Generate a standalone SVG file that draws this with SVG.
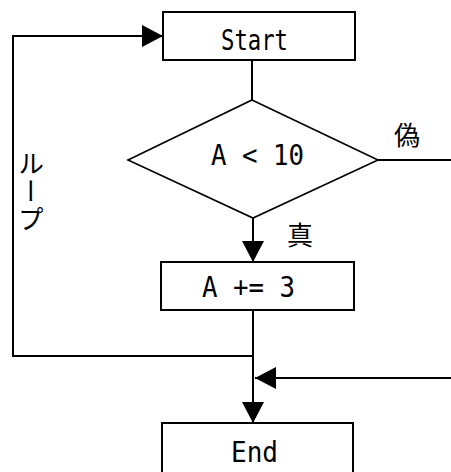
<svg xmlns="http://www.w3.org/2000/svg" width="451" height="472" viewBox="0 0 451 472">
  <style>
    .box { fill: #fff; stroke: #000; stroke-width: 2; }
    .dia { fill: #fff; stroke: #000; stroke-width: 1.6; }
    .wire { fill: none; stroke: #000; stroke-width: 2; }
    .lbl { font-family: "DejaVu Sans Mono", "Liberation Mono", monospace; font-size: 28px; fill: #000; }
    .jp { font-family: "Noto Sans CJK JP", "Noto Sans", sans-serif; font-size: 26px; fill: #000; }
  </style>
  <defs>
    <marker id="arrow" markerUnits="userSpaceOnUse" markerWidth="22" markerHeight="22" refX="21" refY="11" orient="auto">
      <path d="M0,0 L21,11 L0,22 Z" fill="#000"/>
    </marker>
  </defs>
  <rect width="451" height="472" fill="#fff"/>

  <g id="connectors">
    <line class="wire" x1="252" y1="60" x2="252" y2="100"/>
    <line class="wire" x1="253" y1="218" x2="253" y2="262" marker-end="url(#arrow)"/>
    <line class="wire" x1="253" y1="310" x2="253" y2="423" marker-end="url(#arrow)"/>
    <path class="wire" d="M253,356 H13 V36 H163" marker-end="url(#arrow)"/>
    <line class="wire" x1="378" y1="160" x2="451" y2="160"/>
    <line class="wire" x1="451" y1="378" x2="255" y2="378" marker-end="url(#arrow)"/>
    <text class="jp" x="394" y="145">偽</text>
    <text class="jp" x="287" y="245">真</text>
    <text class="jp" x="31" y="150" writing-mode="tb" style="writing-mode: vertical-rl; letter-spacing: 2px">ループ</text>
  </g>

  <g id="start">
    <rect class="box" x="163" y="12" width="192" height="48"/>
    <text class="lbl" x="221" y="50" textLength="67" lengthAdjust="spacingAndGlyphs">Start</text>
  </g>

  <g id="condition">
    <polygon class="dia" points="252,100 378,160 253,218 128,160"/>
    <text class="lbl" x="211" y="165" textLength="93" lengthAdjust="spacingAndGlyphs">A &lt; 10</text>
  </g>

  <g id="increment">
    <rect class="box" x="161" y="262" width="193" height="48"/>
    <text class="lbl" x="202" y="297" textLength="93" lengthAdjust="spacingAndGlyphs">A += 3</text>
  </g>

  <g id="end">
    <rect class="box" x="162" y="423" width="191" height="60"/>
    <text class="lbl" x="231" y="462" textLength="47" lengthAdjust="spacingAndGlyphs">End</text>
  </g>
</svg>
